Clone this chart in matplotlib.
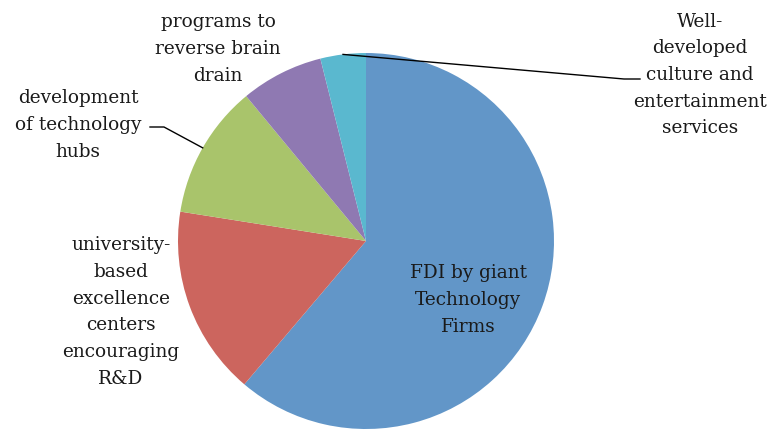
import numpy as np
import matplotlib
matplotlib.use("Agg")
import matplotlib.pyplot as plt

categories = ["FDI by giant\nTechnology\nFirms",
              "university-\nbased\nexcellence\ncenters\nencouraging\nR&D",
              "development\nof technology\nhubs",
              "programs to\nreverse brain\ndrain",
              "Well-\ndeveloped\nculture and\nentertainment\nservices"]
values = [61.2, 16.3, 11.5, 7.1, 3.9]
colors = ["#6296C8", "#CC655E", "#A9C46B", "#8F79B2", "#5AB8CF"]

W, H = 772, 431
fig = plt.figure(figsize=(W / 100, H / 100), dpi=100)
ax = fig.add_axes([0, 0, 1, 1])

cx, cy, R = 366, H - 242, 188
wedges, _ = ax.pie(values, colors=colors, startangle=90, counterclock=False,
                   center=(cx, cy), radius=R, frame=True,
                   wedgeprops=dict(linewidth=0))
ax.set_xlim(0, W)
ax.set_ylim(0, H)
ax.set_aspect("equal")
ax.axis("off")

font = dict(family="DejaVu Serif", fontsize=13.3, color="#1a1a1a",
            ha="center", va="center", linespacing=1.62)

def edge_point(w):
    mid = np.deg2rad((w.theta1 + w.theta2) / 2)
    return cx + R * np.cos(mid), cy + R * np.sin(mid)

label_pos = [(468, H - 300), (121, H - 312), (78, H - 125), (218, H - 49), (700, H - 75)]
for txt, (x, y) in zip(categories, label_pos):
    ax.text(x, y, txt, **font)

# leader line for technology hubs
px, py = edge_point(wedges[2])
ax.plot([150, 164, px], [H - 128, H - 128, py], color="black", lw=1)
# leader line for culture and entertainment
px, py = edge_point(wedges[4])
ax.plot([px, 624, 640], [py, H - 80, H - 80], color="black", lw=1)

fig.savefig("out.png", dpi=100)
